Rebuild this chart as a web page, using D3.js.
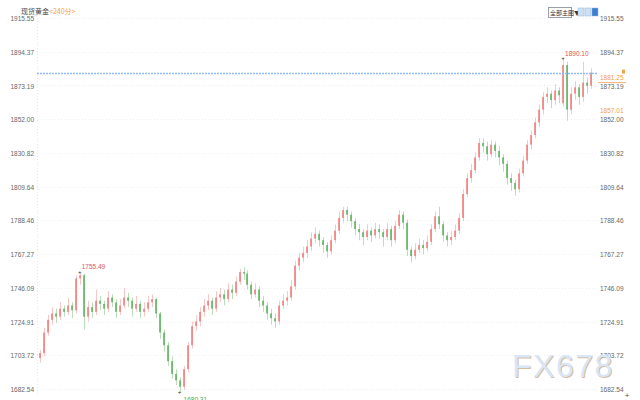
<!DOCTYPE html>
<html><head><meta charset="utf-8">
<script src="https://cdn.jsdelivr.net/npm/d3@7"></script>
<style>html,body{margin:0;padding:0;background:#fff;}svg{display:block;}</style>
</head><body>
<script>
const title = "现货黄金";
const period = "<240分>";
const yTicks = [1915.55,1894.37,1873.19,1852.00,1830.82,1809.64,1788.46,1767.27,1746.09,1724.91,1703.72,1682.54];
const open = [1702,1705,1718,1726,1730,1728,1733,1731,1735,1732,1752,1754,1728,1734,1731,1738,1736,1733,1740,1737,1731,1735,1740,1738,1733,1736,1731,1733,1737,1739,1730,1718,1710,1700,1692,1688,1684,1695,1710,1722,1725,1731,1735,1738,1733,1740,1742,1739,1745,1743,1750,1756,1755,1748,1742,1745,1738,1735,1730,1727,1725,1735,1738,1740,1747,1760,1765,1768,1772,1777,1780,1776,1773,1769,1776,1782,1790,1795,1792,1788,1783,1781,1778,1782,1779,1783,1781,1778,1783,1776,1785,1792,1787,1770,1766,1770,1773,1771,1775,1783,1791,1786,1779,1776,1778,1782,1790,1805,1815,1820,1828,1837,1835,1830,1836,1832,1828,1824,1815,1812,1808,1818,1826,1836,1842,1850,1858,1866,1868,1864,1870,1862,1886,1858,1868,1872,1866,1875,1873];
const close = [1705,1718,1726,1730,1728,1733,1731,1735,1732,1752,1754,1728,1734,1731,1738,1736,1733,1740,1737,1731,1735,1740,1738,1733,1736,1731,1733,1737,1739,1730,1718,1710,1700,1692,1688,1684,1695,1710,1722,1725,1731,1735,1738,1733,1740,1742,1739,1745,1743,1750,1756,1755,1748,1742,1745,1738,1735,1730,1727,1725,1735,1738,1740,1747,1760,1765,1768,1772,1777,1780,1776,1773,1769,1776,1782,1790,1795,1792,1788,1783,1781,1778,1782,1779,1783,1781,1778,1783,1776,1785,1792,1787,1770,1766,1770,1773,1771,1775,1783,1791,1786,1779,1776,1778,1782,1790,1805,1815,1820,1828,1837,1835,1830,1836,1832,1828,1824,1815,1812,1808,1818,1826,1836,1842,1850,1858,1866,1868,1864,1870,1867,1886,1858,1868,1872,1866,1875,1873,1881.25];
const high = [1707,1721,1729,1734,1733,1737,1735,1740,1737,1754,1755.49,1755,1738,1737,1745,1741,1738,1744,1742,1739,1739,1746,1743,1740,1741,1738,1737,1741,1742,1740,1731,1720,1712,1703,1695,1690,1697,1712,1725,1729,1734,1739,1742,1740,1744,1746,1745,1749,1748,1753,1758,1759,1757,1750,1749,1747,1741,1737,1733,1730,1738,1742,1744,1751,1763,1768,1772,1776,1781,1784,1782,1778,1775,1779,1786,1794,1797,1797,1794,1790,1786,1783,1786,1784,1787,1786,1783,1787,1785,1788,1795,1794,1789,1772,1774,1777,1776,1779,1786,1794,1797,1788,1781,1782,1786,1793,1808,1818,1824,1831,1840,1840,1838,1839,1838,1835,1830,1826,1818,1814,1821,1829,1839,1845,1853,1861,1869,1872,1870,1874,1872,1890.10,1888,1872,1876,1874,1888,1878,1884];
const low = [1699,1703,1716,1723,1724,1726,1728,1729,1727,1730,1748,1720,1725,1727,1729,1732,1729,1731,1734,1727,1729,1733,1734,1728,1731,1727,1728,1731,1734,1727,1714,1706,1697,1689,1685,1680.31,1682,1693,1708,1719,1722,1728,1732,1729,1731,1737,1735,1737,1739,1741,1748,1751,1745,1739,1740,1734,1731,1726,1723,1721,1723,1733,1735,1738,1745,1757,1762,1765,1769,1774,1772,1768,1765,1767,1774,1780,1787,1788,1784,1779,1776,1773,1776,1775,1777,1777,1772,1776,1772,1774,1783,1783,1766,1762,1764,1768,1767,1769,1773,1781,1783,1775,1772,1773,1776,1780,1788,1803,1812,1818,1826,1831,1826,1828,1828,1823,1819,1811,1807,1804,1806,1816,1824,1833,1840,1847,1855,1862,1859,1861,1862,1860,1851,1855,1864,1861,1863,1868,1871];
const lastPrice = 1881.25;
const refPrice = 1857.01;

const W = 640, H = 400;
const svg = d3.select("body").append("svg").attr("width", W).attr("height", H)
  .style("font-family", "'Liberation Sans', Arial, sans-serif");

const y = d3.scaleLinear().domain([1682.54, 1915.55]).range([389, 18]);
const x = d3.scaleBand().domain(d3.range(close.length)).range([37, 594]).padding(0.45);
const plotL = 37, plotR = 597;

// grid
svg.append("g").selectAll("line").data(yTicks).join("line")
  .attr("x1", plotL).attr("x2", plotR)
  .attr("y1", d => Math.round(y(d)) + 0.5).attr("y2", d => Math.round(y(d)) + 0.5)
  .attr("stroke", "#eef0f3").attr("stroke-dasharray", "1,2");
svg.append("line").attr("x1", plotL + 0.5).attr("x2", plotL + 0.5).attr("y1", 18).attr("y2", 395)
  .attr("stroke", "#e6e8ec").attr("stroke-dasharray", "1,2");

// axes
const axL = d3.axisLeft(y).tickValues(yTicks).tickFormat(d3.format(".2f")).tickSize(0).tickPadding(2);
const gL = svg.append("g").attr("transform", "translate(36,0.5)").call(axL);
gL.select(".domain").remove();
gL.selectAll("text").attr("font-size", 6.5).attr("fill", "#666").attr("dy", "0.32em");
const axR = d3.axisRight(y).tickValues(yTicks).tickFormat(d3.format(".2f")).tickSize(0).tickPadding(2);
const gR = svg.append("g").attr("transform", "translate(598,0.5)").call(axR);
gR.select(".domain").remove();
gR.selectAll("text").attr("font-size", 6.5).attr("fill", "#666").attr("dy", "0.32em");

// watermark
const wm = svg.append("g");
wm.append("text").attr("x", 513).attr("y", 378).text("FX678")
  .attr("font-size", 32).attr("letter-spacing", 1.5).attr("fill", "#c9a27a").attr("opacity", 0.7);
wm.append("text").attr("x", 512).attr("y", 377).text("FX678")
  .attr("font-size", 32).attr("letter-spacing", 1.5).attr("fill", "#d9e6f6");

// candles
const data = close.map((c, i) => ({i, o: open[i], h: high[i], l: low[i], c}));
const up = "#f07474", down = "#55ad55";
const g = svg.append("g");
g.selectAll("line.w").data(data).join("line")
  .attr("x1", d => Math.round(x(d.i) + 1) + 0.5)
  .attr("x2", d => Math.round(x(d.i) + 1) + 0.5)
  .attr("y1", d => y(d.h)).attr("y2", d => y(d.l))
  .attr("stroke", d => d.c >= d.o ? up : down).attr("stroke-opacity", 0.4).attr("stroke-width", 1);
g.selectAll("rect").data(data).join("rect")
  .attr("x", d => Math.round(x(d.i)))
  .attr("width", 2)
  .attr("y", d => y(Math.max(d.o, d.c)))
  .attr("height", d => Math.max(1, Math.abs(y(d.o) - y(d.c))))
  .attr("fill", d => d.c >= d.o ? up : down).attr("fill-opacity", 0.75);

// last price line
svg.append("line").attr("x1", plotL).attr("x2", plotR)
  .attr("y1", Math.round(y(lastPrice)) + 0.5).attr("y2", Math.round(y(lastPrice)) + 0.5)
  .attr("stroke", "#8fbcf4").attr("stroke-dasharray", "2,1").attr("stroke-width", 1.3);

// orange right labels
[lastPrice, refPrice].forEach((v, k) => {
  const yy = y(v) + (k === 0 ? 5 : 0);
  svg.append("rect").attr("x", 598).attr("y", yy - 4.5).attr("width", 28).attr("height", 9).attr("fill", "#fff");
  svg.append("text").attr("x", 600).attr("y", yy).attr("dy", "0.35em").text(d3.format(".2f")(v))
    .attr("font-size", 6.5).attr("fill", "#f0a050");
});
svg.append("line").attr("x1", 598).attr("x2", 626).attr("y1", y(lastPrice) + 10).attr("y2", y(lastPrice) + 10)
  .attr("stroke", "#f5b070").attr("stroke-width", 1);
svg.append("rect").attr("x", 622).attr("y", y(lastPrice) - 3).attr("width", 3).attr("height", 4).attr("fill", "#f0a050");

// extreme markers
const iMax = d3.maxIndex(high), iMin = d3.minIndex(low);
const iLocal = 10;
function marker(i, v, label, color, dx, dy) {
  const cx = x(i) + 1, cy = y(v);
  svg.append("text").attr("x", cx).attr("y", cy - 1).attr("dy", "0.35em").attr("text-anchor", "middle")
    .text("+").attr("font-size", 6).attr("fill", "#333");
  svg.append("text").attr("x", cx + dx).attr("y", cy + dy).text(label)
    .attr("font-size", 6.5).attr("fill", color);
}
marker(iMax, high[iMax], d3.format(".2f")(high[iMax]), "#e05555", 2, -3);
marker(iLocal, high[iLocal], d3.format(".2f")(high[iLocal]), "#e05555", 2, -4);
marker(iMin, low[iMin], d3.format(".2f")(low[iMin]), "#4eab4e", 4, 9);

// title
const t = svg.append("text").attr("x", 21).attr("y", 13.5).attr("font-size", 7)
  .attr("font-family", "'Noto Sans CJK SC', sans-serif");
t.append("tspan").text(title).attr("fill", "#444");
t.append("tspan").text(period).attr("fill", "#f0a050");

// top-right controls
svg.append("rect").attr("x", 548.5).attr("y", 7.5).attr("width", 23).attr("height", 10)
  .attr("fill", "#fff").attr("stroke", "#9aa0a8");
svg.append("text").attr("x", 550).attr("y", 15).attr("font-size", 6)
  .attr("font-family", "'Noto Sans CJK SC', sans-serif").attr("fill", "#333").text("全部主图▼");
[578, 585, 592].forEach((xx, k) => {
  svg.append("rect").attr("x", xx).attr("y", 8).attr("width", 6).attr("height", 8)
    .attr("fill", k === 2 ? "#3a7fd0" : "#cfe0f5").attr("stroke", "#8fb4e3").attr("stroke-width", 0.5);
});

svg.append("text").attr("x", 627).attr("y", 398).attr("text-anchor", "middle").attr("font-size", 8)
  .attr("fill", "#555").text("+");
</script>
</body></html>
